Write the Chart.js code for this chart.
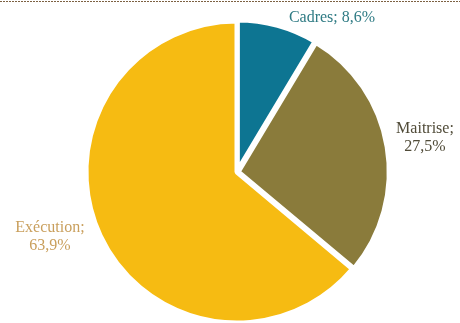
<!DOCTYPE html>
<html>
<head>
<meta charset="utf-8">
<script src="https://cdn.jsdelivr.net/npm/chart.js@4"></script>
<style>
  html, body { margin: 0; padding: 0; background: #fff; overflow: hidden; }
  #wrap { position: relative; width: 460px; height: 350px; }
</style>
</head>
<body>
<div id="wrap"><canvas id="pie"></canvas></div>
<script>
const categories = ['Cadres', 'Maitrise', 'Exécution'];
const shares = [8.6, 27.5, 63.9];
const shareLabels = ['8,6%', '27,5%', '63,9%'];

const sliceColors = ['#0d7592', '#8a7b3b', '#f6bb12'];
const labelColors = ['#2f7b84', '#504b38', '#c99f5c'];

// label anchors (pixel, centre of text block) and line layout
const labelSpots = [
  { x: 332, y: 18, lines: [categories[0] + '; ' + shareLabels[0]] },
  { x: 425, y: 138, lines: [categories[1] + ';', shareLabels[1]] },
  { x: 50, y: 237, lines: [categories[2] + ';', shareLabels[2]] }
];

const pieLabels = {
  id: 'pieLabels',
  afterDraw(chart) {
    const ctx = chart.ctx;
    ctx.save();
    // dotted rule along the top edge
    ctx.fillStyle = '#7d6142';
    for (let x = 0; x < 460; x += 3) ctx.fillRect(x, 1, 2, 1);

    ctx.font = '16px "Liberation Serif", "DejaVu Serif", serif';
    ctx.textAlign = 'center';
    ctx.textBaseline = 'middle';
    labelSpots.forEach((s, i) => {
      ctx.fillStyle = labelColors[i];
      const lh = 18;
      const y0 = s.y - (s.lines.length - 1) * lh / 2;
      s.lines.forEach((t, j) => ctx.fillText(t, s.x, y0 + j * lh));
    });
    ctx.restore();
  }
};

new Chart(document.getElementById('pie'), {
  type: 'pie',
  data: {
    labels: categories,
    datasets: [{
      data: shares,
      backgroundColor: sliceColors,
      borderColor: '#ffffff',
      borderWidth: 5,
      offset: [3, 5, 0]
    }]
  },
  options: {
    responsive: true,
    maintainAspectRatio: false,
    animation: false,
    layout: { padding: { top: 16, bottom: 22, left: 14, right: 0 } },
    plugins: {
      legend: { display: false },
      tooltip: { enabled: false }
    }
  },
  plugins: [pieLabels]
});
</script>
</body>
</html>
